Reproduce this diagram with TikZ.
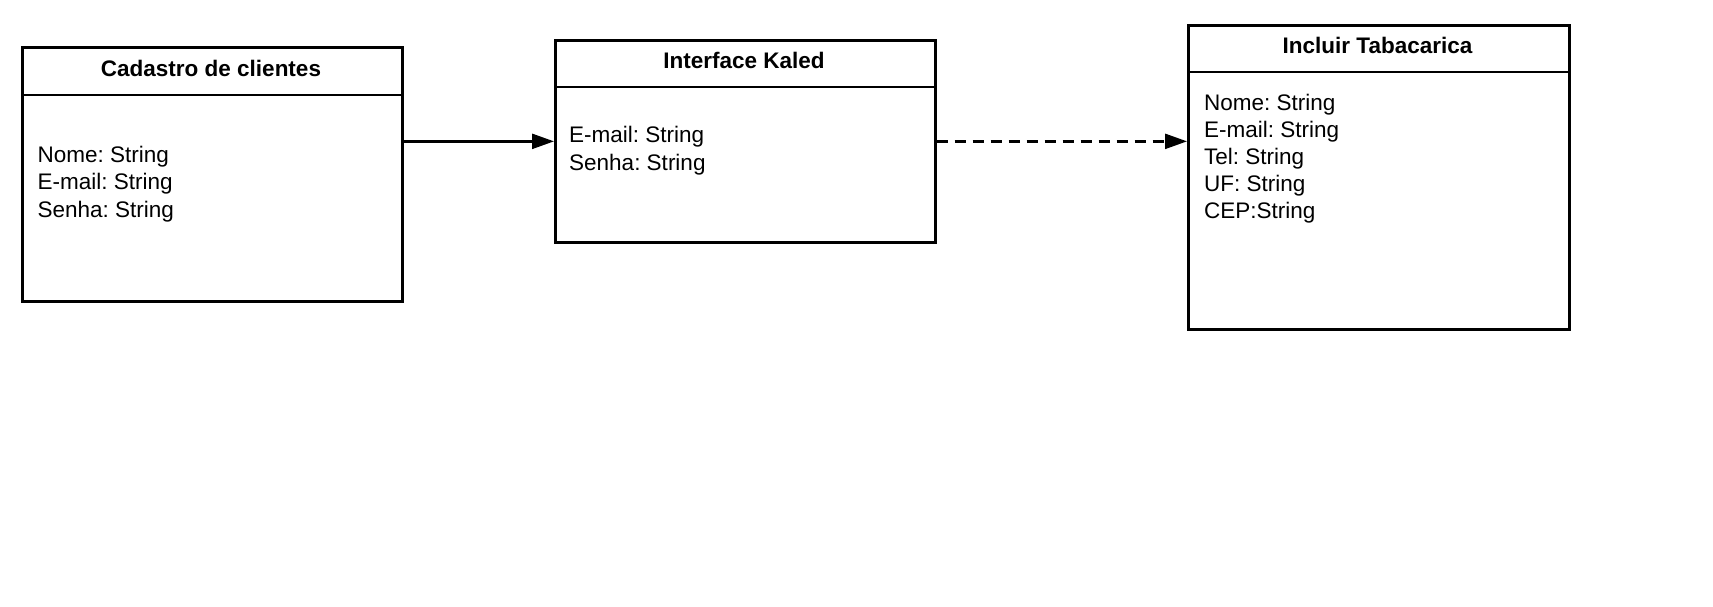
\documentclass[tikz,border=0pt]{standalone}
\usepackage{fontspec}
\setmainfont{Liberation Sans}
\usetikzlibrary{arrows.meta}
\frenchspacing
\begin{document}
\begin{tikzpicture}[x=1pt,y=-1pt,
  box/.style={draw, line width=2.7pt, rectangle, inner sep=0pt, anchor=north west},
  sep/.style={line width=2.7pt},
  ttl/.style={font=\fontsize{22.5}{27}\selectfont\bfseries, anchor=base, inner sep=0pt},
  fld/.style={font=\fontsize{22.5}{27}\selectfont, anchor=base west, inner sep=0pt},
  conn/.style={line width=2.4pt, -{Triangle[length=22pt,width=15pt]}},
  dashconn/.style={conn, dash pattern=on 11pt off 7pt}
]
\useasboundingbox (0,0) rectangle (1713,606);
% box 1
\node[box, minimum width=380pt, minimum height=254pt] (b1) at (21,46) {};
\draw[sep] (b1.west |- 0,95) -- (b1.east |- 0,95);
\node[ttl] (t1) at (211,76) {Cadastro de clientes};
\node[fld] (f11) at (37.5,162) {Nome: String};
\node[fld] (f12) at (37.5,189.5) {E-mail: String};
\node[fld] (f13) at (37.5,217) {Senha: String};
% box 2
\node[box, minimum width=380pt, minimum height=202pt] (b2) at (554,39) {};
\draw[sep] (b2.west |- 0,87) -- (b2.east |- 0,87);
\node[ttl] (t2) at (744,68) {Interface Kaled};
\node[fld] (f21) at (569,142.5) {E-mail: String};
\node[fld] (f22) at (569,170) {Senha: String};
% box 3
\node[box, minimum width=381pt, minimum height=304pt] (b3) at (1187,24) {};
\draw[sep] (b3.west |- 0,72) -- (b3.east |- 0,72);
\node[ttl] (t3) at (1377.5,53) {Incluir Tabacarica};
\node[fld] (f31) at (1204,110) {Nome: String};
\node[fld] (f32) at (1204,137.2) {E-mail: String};
\node[fld] (f33) at (1204,164.4) {Tel: String};
\node[fld] (f34) at (1204,191.6) {UF: String};
\node[fld] (f35) at (1204,218.8) {CEP:String};
% connectors
\draw[conn] (b1.east |- b2.west) -- (b2.west);
\draw[dashconn] (b2.east) -- (b3.west |- b2.east);
\end{tikzpicture}
\end{document}
